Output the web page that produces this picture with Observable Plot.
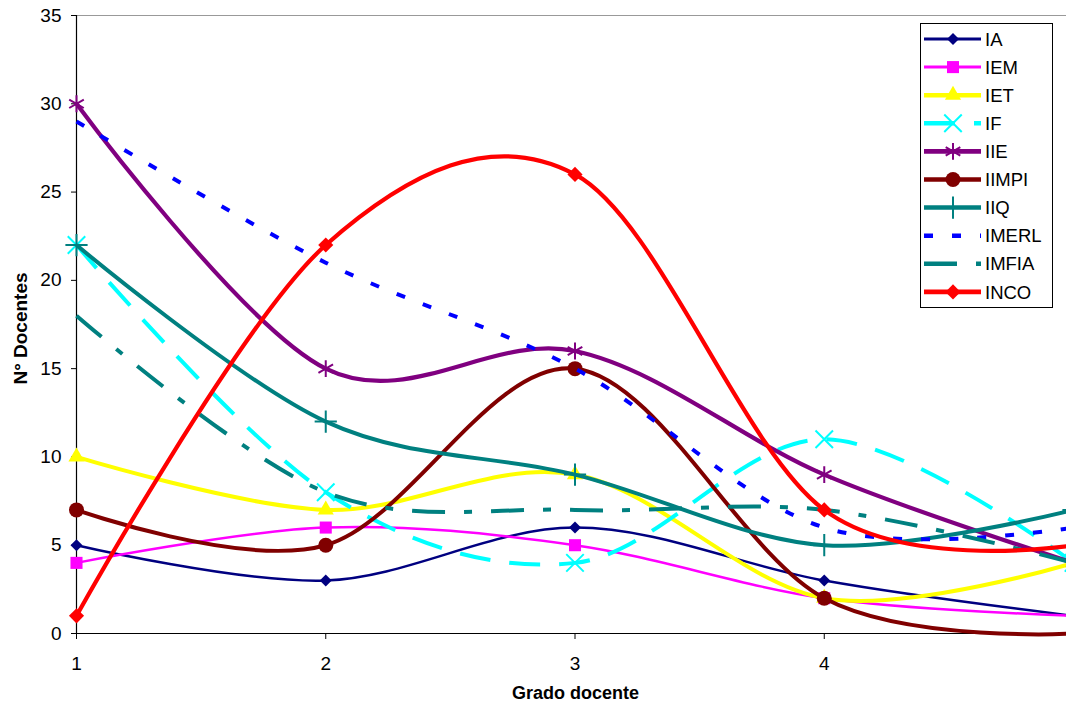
<!DOCTYPE html>
<html><head><meta charset="utf-8">
<script src="https://cdn.jsdelivr.net/npm/d3@7"></script>
<script src="https://cdn.jsdelivr.net/npm/@observablehq/plot@0.6"></script>
<style>
html,body{margin:0;padding:0;background:#fff;overflow:hidden;}
#wrap{position:relative;width:1066px;height:704px;overflow:hidden;}
</style></head><body><div id="wrap"></div>
<script>
const grados = [1, 2, 3, 4, 5];
const xTicks = [1, 2, 3, 4];
const yTicks = [0, 5, 10, 15, 20, 25, 30, 35];
const series = ["IA", "IEM", "IET", "IF", "IIE", "IIMPI", "IIQ", "IMERL", "IMFIA", "INCO"];
const IA    = [5, 3, 6, 3, 1];
const IEM   = [4, 6, 5, 2, 1];
const IET   = [10, 7, 9, 2, 4];
const IF    = [22, 8, 4, 11, 4];
const IIE   = [30, 15, 16, 9, 4];
const IIMPI = [7, 5, 15, 2, 0];
const IIQ   = [22, 12, 9, 5, 7];
const IMERL = [29, 21, 15, 6, 6];
const IMFIA = [18, 8, 7, 7, 4];
const INCO  = [1, 22, 26, 7, 5];
const values = [IA, IEM, IET, IF, IIE, IIMPI, IIQ, IMERL, IMFIA, INCO];

const colors  = ["#000080", "#FF00FF", "#FFFF00", "#00FFFF", "#800080", "#800000", "#008080", "#0000FF", "#008080", "#FF0000"];
const widths  = [2.5, 2.5, 4, 4, 4.2, 4, 4, 4, 4, 4.2];
const dashes  = [null, null, null, "31,19", null, null, null, "9,19", "33,19,8,19", null];
const symbols = ["diamond2", "square", "triangle", "times", "asterisk", "circle", "plus", null, null, "diamond2"];
const radii   = [5.4, 6.8, 6, 8, 8, 7.5, 7.2, 0, 0, 6.8];
const strokeSymbols = new Set(["times", "asterisk", "plus"]);

const rows = series.map((s, i) => grados.map((g, j) => ({serie: s, grado: g, n: values[i][j]})));

const font = "Liberation Sans, Arial, sans-serif";
const marks = [
  Plot.ruleY([35], {stroke: "#999", strokeWidth: 1}),
  Plot.ruleX([1], {stroke: "black", strokeWidth: 1.2}),
  Plot.ruleY([0], {stroke: "black", strokeWidth: 1.2}),
  Plot.axisY({ticks: yTicks, tickSize: 5, tickPadding: 10, label: null, fontSize: 19}),
  Plot.axisX({ticks: xTicks, tickSize: 6, tickPadding: 17, label: null, fontSize: 19, tickFormat: d => String(d)}),
  Plot.text(["N° Docentes"], {frameAnchor: "left", textAnchor: "middle", lineAnchor: "middle",
    dx: -56, dy: 4, rotate: -90, fontWeight: "bold", fontSize: 19}),
  Plot.text(["Grado docente"], {frameAnchor: "bottom", textAnchor: "middle", lineAnchor: "middle",
    dx: 4, dy: 60, fontWeight: "bold", fontSize: 18, letterSpacing: "0.8px"})
];
series.forEach((s, i) => {
  marks.push(Plot.line(rows[i], {x: "grado", y: "n", stroke: colors[i], strokeWidth: widths[i],
    strokeDasharray: dashes[i] || undefined, curve: "cardinal", strokeLinecap: "butt"}));
  if (symbols[i]) {
    const isStroke = strokeSymbols.has(symbols[i]);
    marks.push(Plot.dot(rows[i], {x: "grado", y: "n", symbol: () => symbols[i], r: radii[i],
      fill: isStroke ? "none" : colors[i], stroke: isStroke ? colors[i] : "none", strokeWidth: isStroke ? 2 : 0}));
  }
});

const chart = Plot.plot({
  width: 1066, height: 704,
  marginTop: 15, marginBottom: 71, marginLeft: 76, marginRight: 0,
  style: {fontFamily: font, fontSize: "19px", color: "black", background: "white"},
  x: {domain: [1, 5], range: [76, 1073]},
  y: {domain: [0, 35]},
  symbol: {type: "identity"},
  marks
});
document.getElementById("wrap").appendChild(chart);

// Legend
const leg = d3.select("#wrap").append("svg")
  .attr("width", 1066).attr("height", 704)
  .style("position", "absolute").style("left", "0").style("top", "0")
  .style("font-family", font);
leg.append("rect").attr("x", 920.5).attr("y", 23.5).attr("width", 132).attr("height", 284)
  .attr("fill", "white").attr("stroke", "black").attr("stroke-width", 1);
const symMap = {diamond2: d3.symbolDiamond2, square: d3.symbolSquare, triangle: d3.symbolTriangle,
  times: d3.symbolTimes, asterisk: d3.symbolAsterisk, circle: d3.symbolCircle, plus: d3.symbolPlus};
series.forEach((s, i) => {
  const y = 39 + i * 28.1;
  leg.append("line").attr("x1", 924).attr("x2", 981).attr("y1", y).attr("y2", y)
    .attr("stroke", colors[i]).attr("stroke-width", widths[i] + 0.5)
    .attr("stroke-dasharray", dashes[i] || null);
  if (symbols[i]) {
    const isStroke = strokeSymbols.has(symbols[i]);
    leg.append("path").attr("transform", `translate(953,${y})`)
      .attr("d", d3.symbol(symMap[symbols[i]], Math.PI * radii[i] * radii[i])())
      .attr("fill", isStroke ? "none" : colors[i])
      .attr("stroke", isStroke ? colors[i] : "none").attr("stroke-width", 2);
  }
  leg.append("text").attr("x", 985).attr("y", y).attr("dy", "0.36em")
    .attr("font-size", 18.5).text(s);
});
</script></body></html>
